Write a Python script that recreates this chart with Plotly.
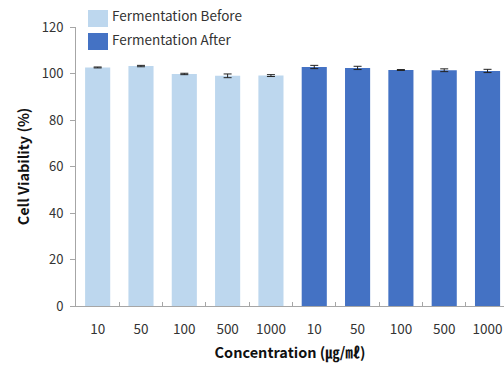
import plotly.graph_objects as go

concentrations = ["10", "50", "100", "500", "1000"]
before_values = [102.6, 103.2, 99.8, 99.0, 99.1]
before_errors = [0.2, 0.3, 0.3, 0.8, 0.4]
after_values = [102.8, 102.4, 101.5, 101.4, 101.1]
after_errors = [0.7, 0.7, 0.2, 0.6, 0.7]

n = len(concentrations)
x_before = list(range(n))
x_after = list(range(n, 2 * n))
tick_labels = concentrations + concentrations

FONT = "Noto Sans CJK KR, Noto Sans, sans-serif"
LIGHT = "#BDD7EE"
DARK = "#4472C4"

fig = go.Figure()
fig.add_trace(go.Bar(
    x=x_before, y=before_values, width=0.58, marker=dict(color=LIGHT, line=dict(width=0)),
    error_y=dict(type="data", array=before_errors, color="#222", thickness=1, width=4),
    name="Fermentation Before", showlegend=False,
))
fig.add_trace(go.Bar(
    x=x_after, y=after_values, width=0.58, marker=dict(color=DARK, line=dict(width=0)),
    error_y=dict(type="data", array=after_errors, color="#222", thickness=1, width=4),
    name="Fermentation After", showlegend=False,
))

fig.update_layout(
    width=504, height=368,
    margin=dict(l=76, r=0, t=27, b=62),
    plot_bgcolor="white", paper_bgcolor="white",
    barmode="overlay",
    font=dict(family=FONT, size=12, color="#333"),
    xaxis=dict(
        range=[-0.5, 9.38], tickvals=x_before + x_after, ticktext=tick_labels,
        ticks="", showgrid=False, showline=True, linecolor="#a6a6a6", linewidth=1,
        zeroline=False, tickfont=dict(size=13.5, color="#333"), ticklabelstandoff=11,
        minor=dict(tickvals=[i + 0.5 for i in range(2 * n - 1)], ticks="inside",
                   ticklen=4, tickcolor="#a6a6a6", showgrid=False),
        title=dict(text="<b>Concentration (㎍/㎖)</b>", font=dict(size=14.5, color="#111"), standoff=10),
        fixedrange=True,
    ),
    yaxis=dict(
        range=[0, 120], dtick=20, ticks="outside", ticklen=5, tickcolor="#a6a6a6",
        showgrid=False, showline=True, linecolor="#a6a6a6", linewidth=1, zeroline=False,
        tickfont=dict(size=13, color="#333"), ticklabelstandoff=4,
        title=dict(text="<b>Cell Viability (%)</b>", font=dict(size=14.5, color="#111"), standoff=8),
    ),
)

# legend drawn as swatches + labels
legend_items = [("Fermentation Before", LIGHT, 10, 27), ("Fermentation After", DARK, 33, 50)]
for label, color, y0, y1 in legend_items:
    fig.add_shape(type="rect", xref="paper", yref="paper",
                  x0=(88 - 76) / 428, x1=(108 - 76) / 428,
                  y0=1 + (27 - y1) / 279, y1=1 + (27 - y0) / 279,
                  fillcolor=color, line=dict(width=0))
    fig.add_annotation(xref="paper", yref="paper", x=(110 - 76) / 428,
                       y=1 + (27 - (y0 + y1) / 2 + 3) / 279,
                       text=label, showarrow=False, xanchor="left", yanchor="middle",
                       font=dict(size=13.5, color="#333", family=FONT))

fig.write_html("out.html")
